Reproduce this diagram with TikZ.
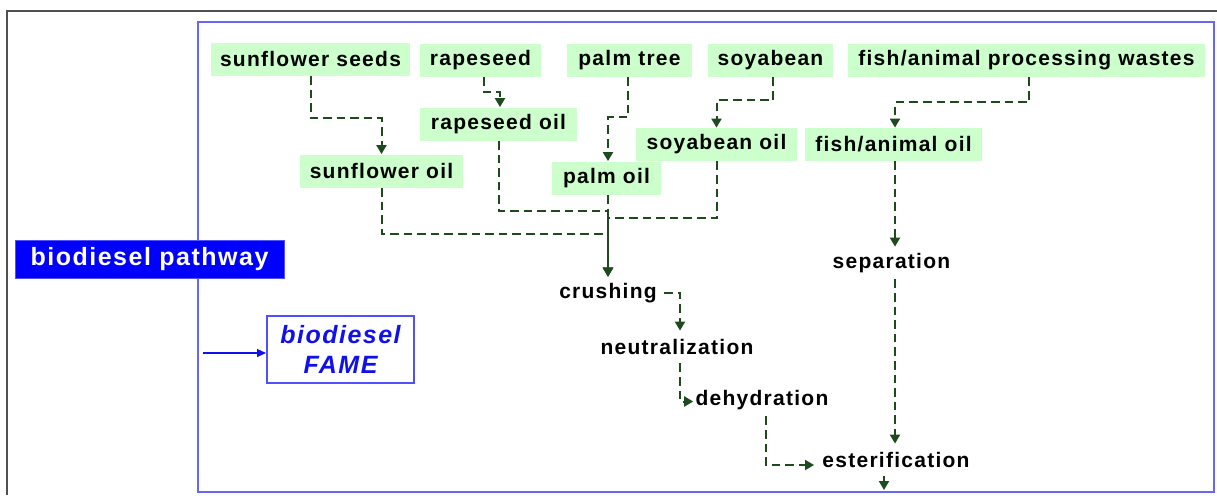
\documentclass[tikz,border=0pt]{standalone}
\usepackage{fontspec}
\newfontfamily\lab[LetterSpace=6]{Liberation Sans}
\usetikzlibrary{arrows.meta}
\definecolor{boxgreen}{RGB}{204,255,204}
\definecolor{conng}{RGB}{30,75,30}
\definecolor{frameblue}{RGB}{102,102,255}
\definecolor{fameblue}{RGB}{16,16,235}
\definecolor{famebord}{RGB}{80,80,255}
\definecolor{grayline}{RGB}{80,80,80}
\begin{document}
\begin{tikzpicture}[x=0.5pt,y=-0.5pt,
  gbox/.style={fill=boxgreen, inner sep=0pt, minimum height=16.5pt, font=\lab\bfseries\fontsize{10.5}{12}\selectfont},
  plain/.style={inner sep=0pt, minimum height=16pt, font=\lab\bfseries\fontsize{10.5}{12}\selectfont},
  conn/.style={draw=conng, line width=1pt, dash pattern=on 4.3pt off 2.5pt, -{Triangle[length=4.5pt,width=5pt]}},
  solidarr/.style={draw=conng, line width=1pt, -{Triangle[length=4.5pt,width=5pt]}},
  bluearr/.style={draw=fameblue, line width=0.7pt, -{Triangle[length=4.5pt,width=4pt]}}
]
\useasboundingbox (0,0) rectangle (1217,495);
% frames
\draw[grayline, line width=0.6pt] (1217,11) -- (7,11) -- (7,495);
\draw[frameblue, line width=1pt] (198,22) rectangle (1214,492);
% title box
\node[fill=blue, draw=famebord, line width=0.5pt, inner sep=0pt, minimum width=134.5pt, minimum height=19pt,
      text=white, font=\lab\bfseries\fontsize{12.5}{14}\selectfont] (path) at (149.5,259) {biodiesel pathway};
% FAME box
\node[draw=famebord, line width=1pt, inner sep=0pt, minimum width=73.5pt, minimum height=33.5pt, align=center,
      text=fameblue, font=\lab\bfseries\itshape\fontsize{12.5}{15}\selectfont] (fame) at (340.5,349.5) {biodiesel\\FAME};
\coordinate (fa) at (203,353);
\draw[bluearr] (fa) -- (fame.west |- fa);
% green boxes
\node[gbox, minimum width=99.5pt] (ss) at (310.5,59) {sunflower seeds};
\node[gbox, minimum width=60.5pt] (rs) at (480.5,60.5) {rapeseed};
\node[gbox, minimum width=62.5pt] (palmt) at (629.5,60.5) {palm tree};
\node[gbox, minimum width=62.5pt] (sb) at (770.5,60.5) {soyabean};
\node[gbox, minimum width=178.5pt] (fw) at (1026.5,60.5) {fish/animal processing wastes};
\node[gbox, minimum width=78.5pt] (ro) at (498.5,124) {rapeseed oil};
\node[gbox, minimum width=81.5pt] (so) at (381.5,171) {sunflower oil};
\node[gbox, minimum width=54.5pt] (po) at (606.5,178) {palm oil};
\node[gbox, minimum width=80.5pt] (sbo) at (716.5,144.5) {soyabean oil};
\node[gbox, minimum width=88.5pt] (fo) at (893.5,144.5) {fish/animal oil};
% process steps
\node[plain] (cr) at (608,293) {crushing};
\node[plain] (ne) at (677,347) {neutralization};
\node[plain] (de) at (762,400) {dehydration};
\node[plain] (sep) at (891.5,263) {separation};
\node[plain] (es) at (896,460) {esterification};
\coordinate (out) at (884,490);
% connectors
\draw[conn] (ss.south) -- ++(0,42) -| (so.north);
\draw[conn] ([xshift=1.75pt]rs.south) -- ++(0,15) -| ([xshift=0.75pt]ro.north);
\draw[conn] ([xshift=-0.75pt]palmt.south) -- ++(0,40) -| ([xshift=0.75pt]po.north);
\draw[conn] ([xshift=1.25pt]sb.south) -- ++(0,23) -| (sbo.north);
\draw[conn] ([xshift=1.25pt]fw.south) -- ++(0,25) -| ([xshift=0.75pt]fo.north);
\draw[conn] (so.south) -- ++(0,46) -| (cr.north);
\draw[conn] (ro.south) -- ++(0,70) -| (cr.north);
\draw[conn] (sbo.south) -- ++(0,57) -| (cr.north);
\draw[conn] ([xshift=0.75pt]po.south) -- (cr.north);
\draw[conn] ([xshift=0.75pt]fo.south) -- ([xshift=1.75pt]sep.north);
\draw[conn] ([xshift=3.5pt]cr.east) -| ([xshift=1.5pt]ne.north);
\draw[conn] ([xshift=1.5pt]ne.south) |- ([xshift=-1pt,yshift=-0.75pt]de.west);
\draw[conn] ([xshift=2pt]de.south) |- ([xshift=-4pt,yshift=-2.5pt]es.west);
\draw[conn] ([xshift=1.75pt]sep.south) -- ([xshift=-0.5pt]es.north);
\draw[solidarr] ([xshift=-6pt]es.south) -- (out);
\end{tikzpicture}
\end{document}
